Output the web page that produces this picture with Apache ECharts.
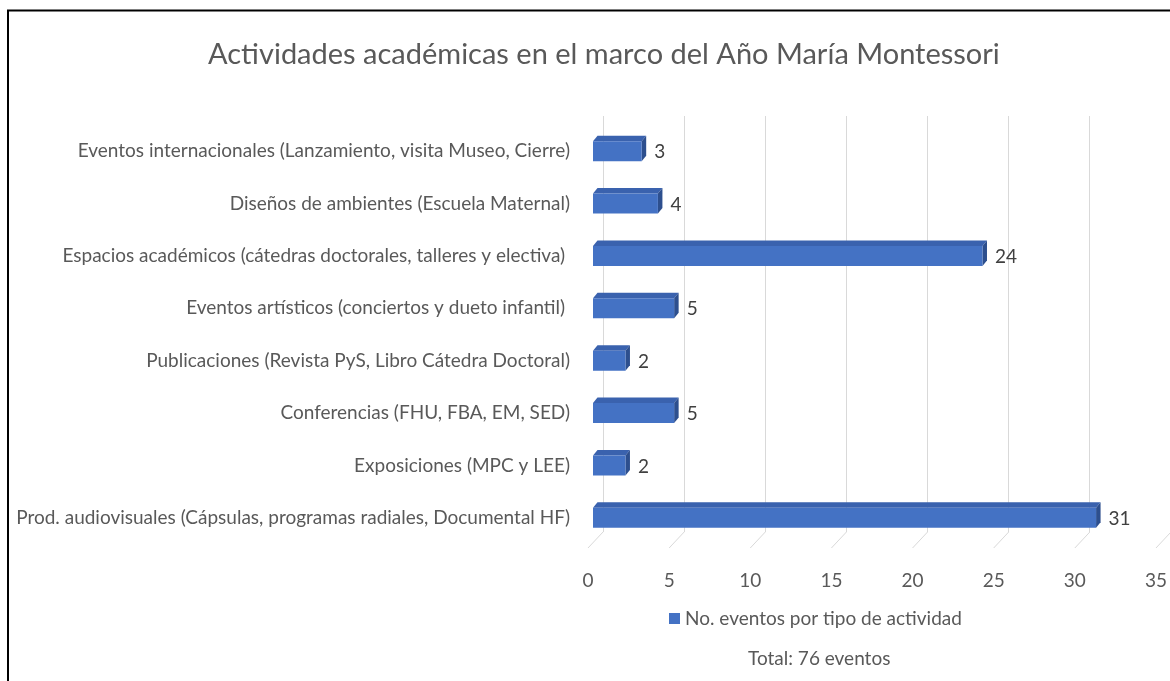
<!DOCTYPE html>
<html>
<head>
<meta charset="utf-8">
<script src="https://cdn.jsdelivr.net/npm/echarts@6/dist/echarts.min.js"></script>
<style>
html,body{margin:0;padding:0;background:#fff;}
#chart{width:1170px;height:681px;}
</style>
</head>
<body>
<div id="chart"></div>
<script>
const titleText = 'Actividades académicas en el marco del Año María Montessori';
const seriesName = 'No. eventos por tipo de actividad';
const totalText = 'Total: 76 eventos';
const categories = [
  'Eventos internacionales (Lanzamiento, visita Museo, Cierre)',
  'Diseños de ambientes (Escuela Maternal)',
  'Espacios académicos (cátedras doctorales, talleres y electiva) ',
  'Eventos artísticos (conciertos y dueto infantil) ',
  'Publicaciones (Revista PyS, Libro Cátedra Doctoral)',
  'Conferencias (FHU, FBA, EM, SED)',
  'Exposiciones (MPC y LEE)',
  'Prod. audiovisuales (Cápsulas, programas radiales, Documental HF)'
];
const values = [3, 4, 24, 5, 2, 5, 2, 31];
const xTicks = [0, 5, 10, 15, 20, 25, 30, 35];

const FONT = 'Lato';
const FRONT = '#4472C4', TOP = '#3A62AE', SIDE = '#2D4F8E';
const DX = 4.5, DY = -5.5, BAR_H = 20;

const chart = echarts.init(document.getElementById('chart'));

function renderBar(params, api) {
  const idx = api.value(0);
  const v = api.value(1);
  const p0 = api.coord([0, idx]);
  const p1 = api.coord([v, idx]);
  const x0 = p0[0], x1 = p1[0];
  const yT = p0[1] - BAR_H / 2, yB = p0[1] + BAR_H / 2;
  return {
    type: 'group',
    children: [
      {type: 'polygon', shape: {points: [[x0, yT], [x0 + DX, yT + DY], [x1 + DX, yT + DY], [x1, yT]]}, style: {fill: TOP}},
      {type: 'polygon', shape: {points: [[x1, yT], [x1 + DX, yT + DY], [x1 + DX, yB + DY], [x1, yB]]}, style: {fill: SIDE}},
      {type: 'rect', shape: {x: x0, y: yT, width: x1 - x0, height: BAR_H}, style: {fill: FRONT}},
      {type: 'text', style: {text: String(v), x: x1 + DX + 8, y: p0[1] + 1, verticalAlign: 'middle', align: 'left',
        fill: '#404040', font: '19px ' + FONT}}
    ]
  };
}

function renderFloor(params, api) {
  const v = api.value(0);
  const p = api.coord([v, 0]);
  return {
    type: 'line',
    shape: {x1: p[0], y1: p[1], x2: p[0] + 15, y2: p[1] - 16},
    style: {stroke: '#d9d9d9', lineWidth: 1}
  };
}

const option = {
  animation: false,
  backgroundColor: '#ffffff',
  title: [
    {text: titleText, left: 203, top: 35,
     textStyle: {fontFamily: FONT, fontSize: 29, fontWeight: 'normal', color: '#595959'}},
    {text: totalText, left: 743, top: 644,
     textStyle: {fontFamily: FONT, fontSize: 19, fontWeight: 'normal', color: '#595959'}}
  ],
  legend: {
    data: [seriesName], left: 664, top: 604, icon: 'rect', itemWidth: 11, itemHeight: 11, itemGap: 5,
    textStyle: {fontFamily: FONT, fontSize: 19, color: '#595959'}
  },
  grid: [
    {left: 593, right: 9, top: 125, height: 419},
    {left: 603, right: -1, top: 116, height: 416},
    {left: 588, right: 14, top: 532, height: 16}
  ],
  xAxis: [
    {gridIndex: 0, type: 'value', min: 0, max: 35, interval: 5, show: false},
    {gridIndex: 1, type: 'value', min: 0, max: 35, interval: 5,
     axisLine: {show: false}, axisTick: {show: false}, axisLabel: {show: false},
     splitLine: {show: true, lineStyle: {color: '#d9d9d9', width: 1}}},
    {gridIndex: 2, type: 'value', min: 0, max: 35, interval: 5,
     axisLine: {show: false}, axisTick: {show: false}, splitLine: {show: false},
     axisLabel: {margin: 23, fontFamily: FONT, fontSize: 19, color: '#595959'}}
  ],
  yAxis: [
    {gridIndex: 0, type: 'category', data: categories, inverse: true,
     axisLine: {show: false}, axisTick: {show: false},
     axisLabel: {margin: 23, fontFamily: FONT, fontSize: 19, color: '#595959'}},
    {gridIndex: 1, type: 'value', show: false},
    {gridIndex: 2, type: 'value', min: 0, max: 1, show: false}
  ],
  series: [
    {name: seriesName, type: 'custom', xAxisIndex: 0, yAxisIndex: 0,
     itemStyle: {color: FRONT},
     data: values.map((v, i) => [i, v]),
     encode: {x: 1, y: 0},
     renderItem: renderBar},
    {name: 'floor', type: 'custom', xAxisIndex: 2, yAxisIndex: 2, silent: true,
     data: xTicks.map(t => [t, 0]),
     encode: {x: 0, y: 1},
     renderItem: renderFloor}
  ],
  graphic: [
    {type: 'line', shape: {x1: 7, y1: 10.5, x2: 1170, y2: 10.5}, style: {stroke: '#000', lineWidth: 2}, z: 100},
    {type: 'line', shape: {x1: 8, y1: 10, x2: 8, y2: 681}, style: {stroke: '#000', lineWidth: 2}, z: 100}
  ]
};
chart.setOption(option);
</script>
</body>
</html>
